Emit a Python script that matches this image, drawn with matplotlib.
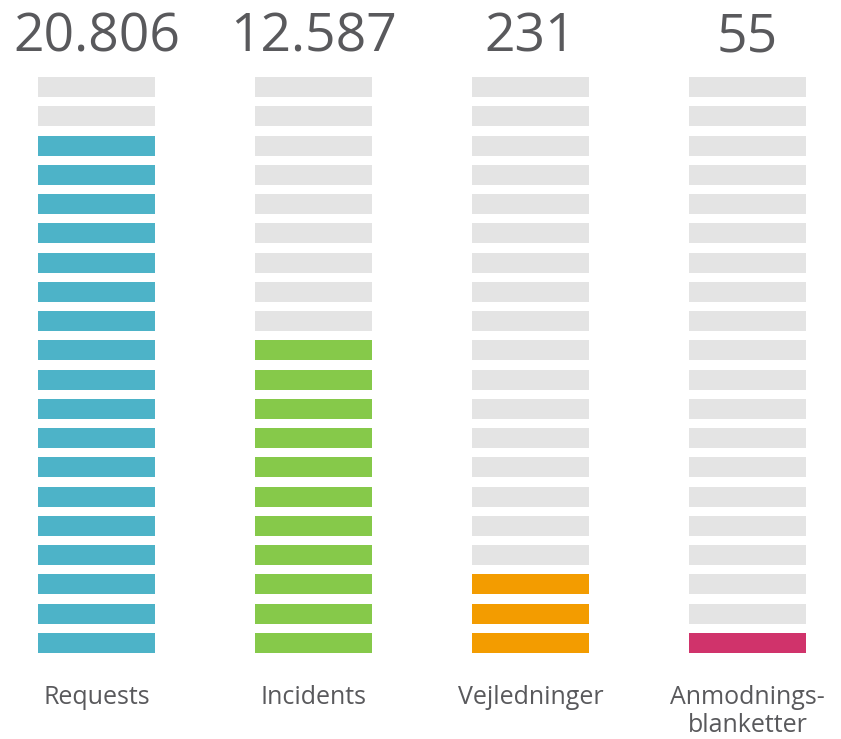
import matplotlib.pyplot as plt

plt.rcParams.update({
    "font.family": ["Open Sans", "DejaVu Sans"],
})

categories = ["Requests", "Incidents", "Vejledninger", "Anmodnings-\nblanketter"]
totals = ["20.806", "12.587", "231", "55"]
filled_segments = [18, 11, 3, 1]
n_segments = 20
colors = ["#4DB3C8", "#86C94A", "#F39C00", "#D0336B"]

EMPTY = "#E4E4E4"
TEXT = "#59595C"

# pixel layout helpers (figure is 841x739 px)
X0, DX = 96.5, 217.0       # centre of first column, column pitch
Y0, DY = 653.0, 29.26      # bottom of lowest segment, segment pitch
BAR_W = 117 / DX
BAR_H = 20 / DY

fig = plt.figure(figsize=(8.41, 7.39), dpi=100)
ax = fig.add_axes([0, 0, 1, 1])
ax.set_xlim(-X0 / DX, (841 - X0) / DX)
ax.set_ylim((Y0 - 739) / DY, Y0 / DY)
ax.axis("off")

for i, (cat, total, n_fill, col) in enumerate(zip(categories, totals, filled_segments, colors)):
    rows = list(range(n_segments))
    seg_colors = [col if r < n_fill else EMPTY for r in rows]
    ax.bar([i] * n_segments, [BAR_H] * n_segments, bottom=rows, width=BAR_W,
           color=seg_colors, linewidth=0, align="center")
    ax.text(i, (Y0 - 51) / DY, total, ha="center", va="baseline",
            fontsize=38.5, color=TEXT)
    for k, line in enumerate(cat.split("\n")):
        ax.text(i, (Y0 - 704 - 28 * k) / DY, line, ha="center", va="baseline",
                fontsize=18, color=TEXT)

fig.savefig("out.png", dpi=100, facecolor="white")
